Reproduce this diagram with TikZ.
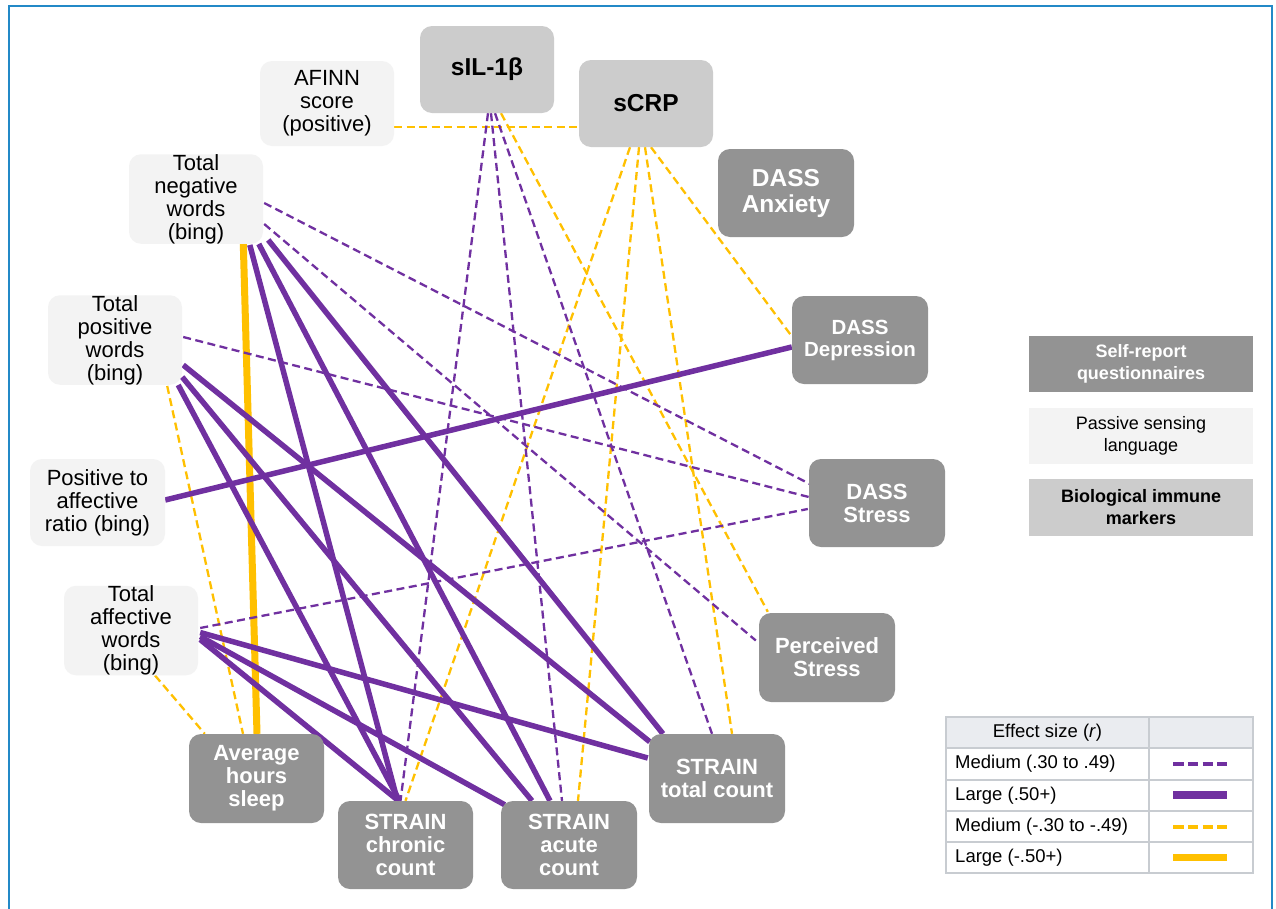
\documentclass[tikz,border=0pt]{standalone}
\usepackage{fontspec}
\setmainfont{Liberation Sans}
\usetikzlibrary{calc}
\definecolor{pur}{HTML}{7030A0}
\definecolor{yel}{HTML}{FFC000}
\definecolor{dk}{HTML}{939393}
\definecolor{lt}{HTML}{F3F3F3}
\definecolor{md}{HTML}{CCCCCC}
\definecolor{framecol}{HTML}{2389C7}
\definecolor{tabhead}{HTML}{EAECF0}
\definecolor{tabline}{HTML}{C8CCD1}
\pgfdeclarelayer{bg}
\pgfsetlayers{bg,main}
\begin{document}
\begin{tikzpicture}[x=1pt,y=-1pt,
 box/.style={rounded corners=12pt, inner sep=0pt, align=center, minimum width=134pt, minimum height=87pt},
 selfrep/.style={box, fill=dk, text=white, font=\fontsize{22}{23}\selectfont\bfseries},
 passive/.style={box, fill=lt, font=\fontsize{22}{23}\selectfont},
 immune/.style={box, fill=md, font=\fontsize{24.5}{26}\selectfont\bfseries},
 meddashpos/.style={draw=pur, line width=2.3pt, dash pattern=on 8pt off 4.5pt},
 largepos/.style={draw=pur, line width=5.5pt},
 meddashneg/.style={draw=yel, line width=2.3pt, dash pattern=on 8pt off 4.5pt},
 largeneg/.style={draw=yel, line width=7pt},
 legbox/.style={inner sep=0pt, align=center, minimum width=224pt, minimum height=56pt, font=\fontsize{18}{22}\selectfont},
 tabtext/.style={inner sep=0pt, anchor=west, font=\fontsize{18.5}{20}\selectfont},
]
\useasboundingbox (0,0) rectangle (1276,908);

% nodes
\node[passive, minimum width=134pt, minimum height=85pt] (afinn) at (327,103.5) {AFINN\\score\\(positive)};
\node[passive, minimum height=86pt] (neg) at (196,199) {Total\\negative\\words\\(bing)};
\node[immune] (sil) at (487,69.5) {sIL-1β};
\node[immune] (scrp) at (646,103.5) {sCRP};
\node[selfrep, minimum width=136pt, minimum height=88pt, font=\fontsize{24.5}{26}\selectfont\bfseries] (anx) at (786,193) {DASS\\Anxiety};
\node[selfrep, minimum width=136pt, minimum height=88pt, font=\fontsize{20.5}{22}\selectfont\bfseries] (dep) at (860,340) {DASS\\Depression};
\node[selfrep, minimum width=136pt, minimum height=88pt] (stress) at (877,503) {DASS\\Stress};
\node[selfrep, minimum width=136pt, minimum height=89pt] (pss) at (827,657.5) {Perceived\\Stress};
\node[passive, minimum height=86pt] (pos) at (115,340) {Total\\positive\\words\\(bing)};
\node[passive, minimum width=135pt] (ratio) at (97.5,502.5) {Positive to\\affective\\ratio (bing)};
\node[passive] (aff) at (131,630.5) {Total\\affective\\words\\(bing)};
\node[selfrep, minimum width=135pt, minimum height=89pt] (sleep) at (256.5,778.5) {Average\\hours\\sleep};
\node[selfrep, minimum width=135pt, minimum height=88pt] (chronic) at (405.5,845) {STRAIN\\chronic\\count};
\node[selfrep, minimum width=136pt, minimum height=88pt] (acute) at (569,845) {STRAIN\\acute\\count};
\node[selfrep, minimum width=136pt, minimum height=89pt] (total) at (717,778.5) {STRAIN\\total count};

% connectors
\begin{pgfonlayer}{bg}
\fill[white] (0,0) rectangle (1276,908);
\draw[framecol, line width=2.2pt] (9,940) -- (9,6) -- (1272,6) -- (1272,940);
% medium negative
\draw[meddashneg] ($(afinn.east)+(0,23.5)$) -- ($(scrp.west)+(0,23.5)$);
\draw[meddashneg] ($(sil.south)+(14,0)$) -- ($(pss.north west)+(9,-1)$);
\draw[meddashneg] ($(scrp.south)+(-16,0)$) -- ($(chronic.north)+(0,0)$);
\draw[meddashneg] ($(scrp.south)+(-7,0)$) -- ($(acute.north)+(9,0)$);
\draw[meddashneg] ($(scrp.south)+(-1,0)$) -- ($(total.north)+(15,0)$);
\draw[meddashneg] ($(scrp.south)+(5,0)$) -- ($(dep.west)+(-1,-5)$);
\draw[meddashneg] ($(pos.south east)+(-15,1)$) -- ($(sleep.north)+(-13.5,0)$);
\draw[meddashneg] ($(aff.south)+(24,0)$) -- ($(sleep.north west)+(16,0)$);
% large negative
\draw[largeneg] ($(neg.south west)+(114.5,0)$) -- ($(sleep.north)+(0.5,0)$);
% medium positive
\draw[meddashpos] ($(neg.east)+(1,4)$) -- ($(stress.west)+(1,-19)$);
\draw[meddashpos] ($(neg.east)+(1,25)$) -- ($(pss.west)+(-3,-17)$);
\draw[meddashpos] ($(pos.east)+(1,-3)$) -- ($(stress.west)+(0,-6)$);
\draw[meddashpos] ($(aff.east)+(2,-2.5)$) -- ($(stress.west)+(-1,6)$);
\draw[meddashpos] ($(sil.south)+(1,0)$) -- ($(chronic.north)+(-5,0)$);
\draw[meddashpos] ($(sil.south)+(4,0)$) -- ($(acute.north)+(-7,0)$);
\draw[meddashpos] ($(sil.south)+(8,0)$) -- ($(total.north)+(-5,0)$);
% large positive
\draw[largepos] ($(neg.south west)+(121,1)$) -- ($(chronic.north)+(-8,0)$);
\draw[largepos] ($(neg.south west)+(130,0)$) -- ($(acute.north)+(-19,0)$);
\draw[largepos] ($(neg.south east)+(5,-4)$) -- ($(total.north)+(-54,0)$);
\draw[largepos] ($(pos.east)+(1,25)$) -- ($(total.north west)+(1,8)$);
\draw[largepos] ($(pos.east)+(0,37)$) -- ($(acute.north)+(-37,0)$);
\draw[largepos] ($(pos.south east)+(-4,0)$) -- ($(chronic.north)+(-6,0)$);
\draw[largepos] ($(ratio.east)+(0,-2.5)$) -- ($(dep.west)+(0,7)$);
\draw[largepos] ($(aff.east)+(2,2)$) -- ($(total.west)+(-1,-20.5)$);
\draw[largepos] ($(aff.east)+(2,6)$) -- ($(acute.north west)+(4,4)$);
\draw[largepos] ($(aff.east)+(2,9)$) -- ($(chronic.north)+(-7,0)$);
\end{pgfonlayer}

% category legend
\node[legbox, fill=dk, text=white, font=\fontsize{18}{22}\selectfont\bfseries] (legself) at (1141,364) {Self-report\\questionnaires};
\node[legbox, fill=lt] (legpass) at (1141,436) {Passive sensing\\language};
\node[legbox, fill=md, minimum height=57pt, font=\fontsize{18}{22}\selectfont\bfseries] (legbio) at (1141,507.5) {Biological immune\\markers};

% effect size table
\fill[tabhead] (946,717) rectangle (1253,748);
\draw[tabline, line width=1.3pt] (946,717) rectangle (1253,873);
\foreach \yy in {748,780,811,842} \draw[tabline, line width=1.3pt] (946,\yy) -- (1253,\yy);
\draw[tabline, line width=1.3pt] (1149,717) -- (1149,873);
\node[inner sep=0pt, font=\fontsize{18.5}{20}\selectfont] (thead) at (1047.5,732.5) {Effect size (\textit{r})};
\node[tabtext] (r1) at (955,764) {Medium (.30 to .49)};
\node[tabtext] (r2) at (955,795.5) {Large (.50+)};
\node[tabtext] (r3) at (955,826.5) {Medium (-.30 to -.49)};
\node[tabtext] (r4) at (955,857.5) {Large (-.50+)};
\draw[pur, line width=4pt, dash pattern=on 10.5pt off 4.3pt] (1173,764) -- (1227,764);
\draw[pur, line width=7.5pt] (1173,795) -- (1227,795);
\draw[yel, line width=4pt, dash pattern=on 10.5pt off 4.3pt] (1173,827) -- (1227,827);
\draw[yel, line width=7.5pt] (1173,857.5) -- (1227,857.5);
\end{tikzpicture}
\end{document}
